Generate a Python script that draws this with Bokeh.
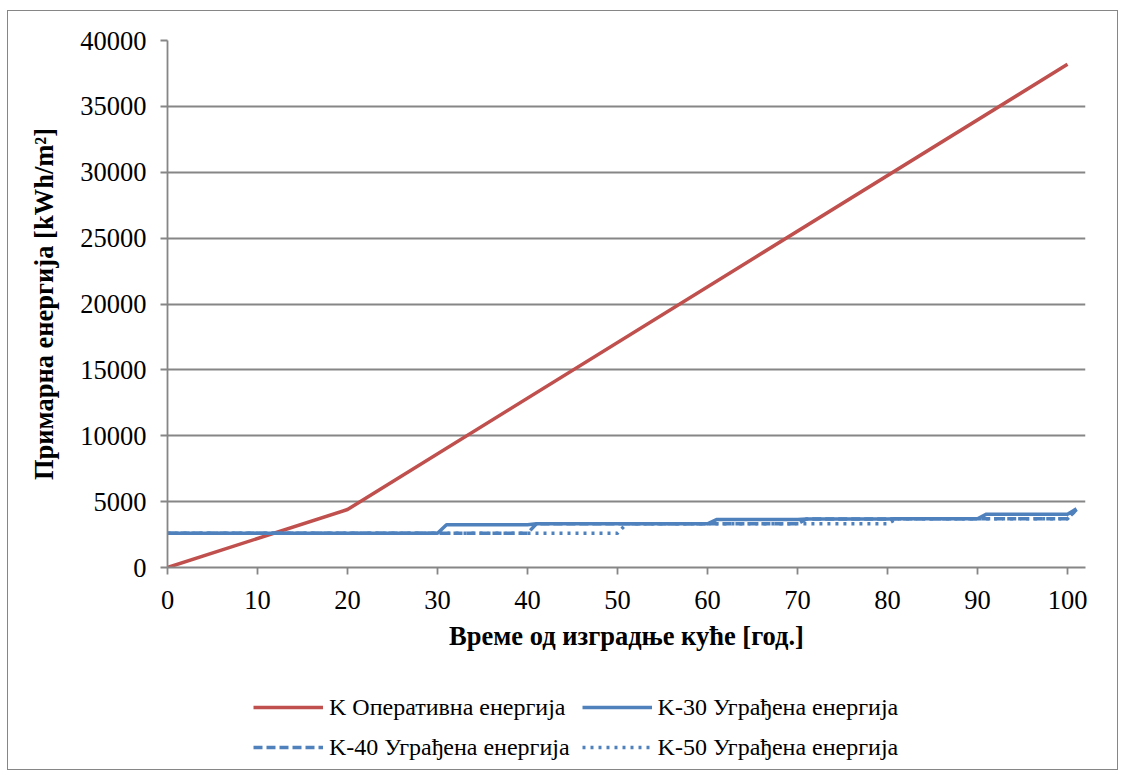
from bokeh.plotting import figure
from bokeh.models import Range1d, Legend, LegendItem, FixedTicker
from bokeh.layouts import column
from bokeh.embed import file_html
from bokeh.resources import INLINE

# ---- data ----
op_years = [0, 20, 100]
op_vals = [0, 4400, 38200]

k30_years = [0, 30, 31, 40, 41, 60, 61, 70, 71, 80, 81, 90, 91, 100, 101]
k30_vals = [2600, 2600, 3250, 3250, 3320, 3320, 3640, 3640, 3680, 3680, 3700, 3700, 4050, 4050, 4450]

k40_years = [0, 40, 41, 70, 71, 80, 81, 100, 101]
k40_vals = [2600, 2600, 3320, 3320, 3680, 3680, 3700, 3700, 4400]

k50_years = [0, 50, 51, 80, 81, 100, 101]
k50_vals = [2600, 2600, 3320, 3320, 3700, 3700, 4400]

x_ticks = [0, 10, 20, 30, 40, 50, 60, 70, 80, 90, 100]
y_ticks = [0, 5000, 10000, 15000, 20000, 25000, 30000, 35000, 40000]

labels = ["K Оперативна енергија", "K-30 Уграђена енергија",
          "K-40 Уграђена енергија", "K-50 Уграђена енергија"]

RED = "#C0504D"
BLUE = "#4F81BD"
GRID = "#868686"
FONT = "Liberation Serif"
LW = 3.5
DASH = "9 4"
DOT = "3 5"

p = figure(width=1109, height=656, output_backend="svg", toolbar_location=None,
           x_range=Range1d(0, 102), y_range=Range1d(0, 40000),
           min_border_left=159, min_border_right=32, min_border_top=29,
           min_border_bottom=100)
p.outline_line_color = None
p.background_fill_color = "white"
p.border_fill_color = "white"

p.line(op_years, op_vals, line_color=RED, line_width=LW)
p.line(k30_years, k30_vals, line_color=BLUE, line_width=LW)
p.line(k40_years, k40_vals, line_color=BLUE, line_width=LW, line_dash=DASH)
p.line(k50_years, k50_vals, line_color=BLUE, line_width=LW, line_dash=DOT)

p.xgrid.grid_line_color = None
p.ygrid.grid_line_color = GRID
p.ygrid.grid_line_width = 1.8

for ax in (p.xaxis[0], p.yaxis[0]):
    ax.axis_line_color = GRID
    ax.axis_line_width = 1.8
    ax.major_tick_line_color = GRID
    ax.major_tick_line_width = 1.8
    ax.major_tick_in = 0
    ax.major_tick_out = 7
    ax.minor_tick_line_color = None
    ax.major_label_text_font = FONT
    ax.major_label_text_font_size = "26.5px"
    ax.major_label_text_color = "black"
    ax.axis_label_text_font = FONT
    ax.axis_label_text_font_style = "bold"
    ax.axis_label_text_font_size = "26.5px"
    ax.axis_label_text_color = "black"

p.xaxis.ticker = FixedTicker(ticks=x_ticks)
p.yaxis.ticker = FixedTicker(ticks=y_ticks)
p.xaxis.major_label_standoff = 16
p.yaxis.major_label_standoff = 14
p.xaxis.axis_label = "Време од изградње куће [год.]"
p.yaxis.axis_label = "Примарна енергија [kWh/m²]"
p.xaxis.axis_label_standoff = 9
p.yaxis.axis_label_standoff = 18

# legend strip below the chart: same series, ranges chosen so nothing is visible
pl = figure(width=1109, height=102, output_backend="svg", toolbar_location=None,
            x_range=Range1d(0, 1), y_range=Range1d(-2, -1), min_border=0)
pl.axis.visible = False
pl.grid.grid_line_color = None
pl.outline_line_color = None
pl.border_fill_color = "white"
l_op = pl.line(op_years, op_vals, line_color=RED, line_width=LW)
l30 = pl.line(k30_years, k30_vals, line_color=BLUE, line_width=LW)
l40 = pl.line(k40_years, k40_vals, line_color=BLUE, line_width=LW, line_dash=DASH)
l50 = pl.line(k50_years, k50_vals, line_color=BLUE, line_width=LW, line_dash=DOT)

# row-wise order for a 2-column legend (Bokeh fills columns first)
legend = Legend(items=[LegendItem(label=labels[0], renderers=[l_op]),
                       LegendItem(label=labels[2], renderers=[l40]),
                       LegendItem(label=labels[1], renderers=[l30]),
                       LegendItem(label=labels[3], renderers=[l50])],
                ncols=2, location=(86, 8))
legend.label_text_font = FONT
legend.label_text_font_size = "24px"
legend.label_text_color = "black"
legend.glyph_width = 70
legend.glyph_height = 28
legend.label_standoff = 6
legend.spacing = 12
legend.padding = 0
legend.margin = 0
legend.border_line_color = None
legend.background_fill_alpha = 0
pl.add_layout(legend, "center")

lay = column(p, pl, margin=(10, 0, 0, 7),
             styles={"border": "1px solid #868686"})

open("out.html", "w").write(file_html(lay, INLINE))
